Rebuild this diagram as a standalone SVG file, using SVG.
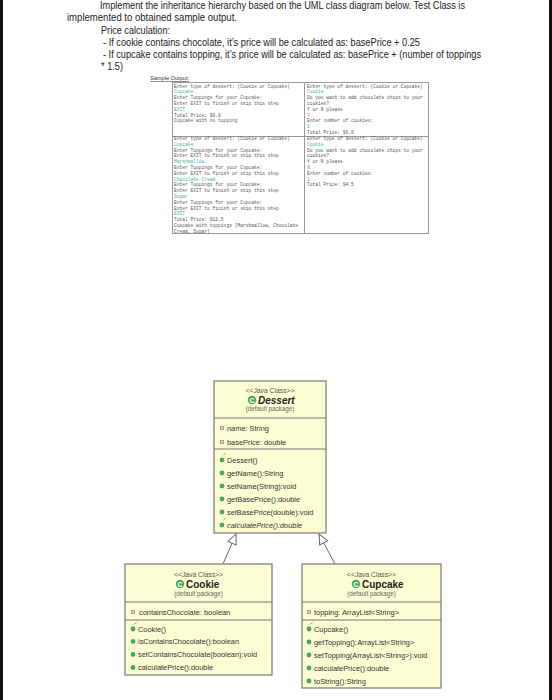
<svg xmlns="http://www.w3.org/2000/svg" width="552" height="700" viewBox="0 0 552 700">
<style>
.q{font-family:"Liberation Sans",Arial,sans-serif;font-size:10.5px;fill:#222}
.so{font-family:"Liberation Sans",Arial,sans-serif;font-size:5.5px;fill:#333;text-decoration:underline}
.m{font-family:"Liberation Mono","Courier New",monospace;font-size:4.6px;fill:#555}
.in{fill:#3bb39a}
.box{fill:#fdfdd3;stroke:#777;stroke-width:1.2}
.sep{stroke:#777;stroke-width:1}
.st{font-family:"Liberation Sans",Arial,sans-serif;font-size:6.8px;fill:#555;text-anchor:middle}
.cn{font-family:"Liberation Sans",Arial,sans-serif;font-size:10px;font-weight:bold;fill:#222}
.pk{font-family:"Liberation Sans",Arial,sans-serif;font-size:6.3px;fill:#666;text-anchor:middle}
.mb{font-family:"Liberation Sans",Arial,sans-serif;font-size:7.4px;fill:#333}
.fi{fill:#e8d0d0;stroke:#a58a8a;stroke-width:0.8}
.me{fill:#4aa85a}
.ic{font-family:"Liberation Sans",Arial,sans-serif;font-size:7px;font-weight:bold;fill:#fff;text-anchor:middle}
.tb{fill:#fff;stroke:#999;stroke-width:1}
.conn{stroke:#666;stroke-width:1;fill:none}
</style>
<defs>
<marker id="tri" markerUnits="userSpaceOnUse" markerWidth="12" markerHeight="12" refX="11" refY="5" orient="auto">
<path d="M1,0.5 L11,5 L1,9.5 Z" fill="#fff" stroke="#666" stroke-width="1"/>
</marker>
</defs>
<rect width="552" height="700" fill="#fff"/>
<rect x="0" y="0" width="3" height="700" fill="#111"/>
<rect x="549" y="0" width="3" height="700" fill="#111"/>

<g id="question">
<text class="q" x="100" y="9" textLength="365" lengthAdjust="spacingAndGlyphs">Implement the inheritance hierarchy based on the UML class diagram below. Test Class is</text>
<text class="q" x="67" y="21" textLength="170" lengthAdjust="spacingAndGlyphs">implemented to obtained sample output.</text>
<text class="q" x="101" y="34" textLength="69" lengthAdjust="spacingAndGlyphs">Price calculation:</text>
<text class="q" x="103" y="46" textLength="317" lengthAdjust="spacingAndGlyphs">- If cookie contains chocolate, it’s price will be calculated as: basePrice + 0.25</text>
<text class="q" x="103" y="58" textLength="378" lengthAdjust="spacingAndGlyphs">-  If cupcake contains topping, it’s price will be calculated as: basePrice + (number of toppings</text>
<text class="q" x="101" y="70" textLength="22" lengthAdjust="spacingAndGlyphs">* 1.5)</text>
<text class="so" x="150" y="80" textLength="39" lengthAdjust="spacingAndGlyphs">Sample Output:</text>
</g>

<g id="sample-output">
<rect class="tb" x="172.5" y="82.5" width="256" height="151"/>
<line class="sep" x1="304.5" y1="82.5" x2="304.5" y2="233.5" style="stroke:#999"/>
<line class="sep" x1="172.5" y1="136.5" x2="428.5" y2="136.5" style="stroke:#999"/>
<text class="m" x="174" y="87.5">Enter type of dessert: (Cookie or Cupcake)</text>
<text class="m in" x="174" y="93.3">Cupcake</text>
<text class="m" x="174" y="99.1">Enter Toppings for your Cupcake:</text>
<text class="m" x="174" y="104.9">Enter EXIT to finish or skip this step</text>
<text class="m in" x="174" y="110.7">EXIT</text>
<text class="m" x="174" y="116.5">Total Price: $0.0</text>
<text class="m" x="174" y="122.3">Cupcake with no topping</text>

<text class="m" x="174" y="140">Enter type of dessert: (Cookie or Cupcake)</text>
<text class="m in" x="174" y="145.8">Cupcake</text>
<text class="m" x="174" y="151.6">Enter Toppings for your Cupcake:</text>
<text class="m" x="174" y="157.4">Enter EXIT to finish or skip this step</text>
<text class="m in" x="174" y="163.2">Marshmallow</text>
<text class="m" x="174" y="169">Enter Toppings for your Cupcake:</text>
<text class="m" x="174" y="174.8">Enter EXIT to finish or skip this step</text>
<text class="m in" x="174" y="180.6">Chocolate Cream</text>
<text class="m" x="174" y="186.4">Enter Toppings for your Cupcake:</text>
<text class="m" x="174" y="192.2">Enter EXIT to finish or skip this step</text>
<text class="m in" x="174" y="198">Sugar</text>
<text class="m" x="174" y="203.8">Enter Toppings for your Cupcake:</text>
<text class="m" x="174" y="209.6">Enter EXIT to finish or skip this step</text>
<text class="m in" x="174" y="215.4">EXIT</text>
<text class="m" x="174" y="221.2">Total Price: $12.5</text>
<text class="m" x="174" y="227">Cupcake with toppings [Marshmallow, Chocolate</text>
<text class="m" x="174" y="232.5">Cream, Sugar]</text>

<text class="m" x="307" y="87.5">Enter type of dessert: (Cookie or Cupcake)</text>
<text class="m in" x="307" y="93.3">Cookie</text>
<text class="m" x="307" y="99.1">Do you want to add chocolate chips to your</text>
<text class="m" x="307" y="104.9">cookies?</text>
<text class="m" x="307" y="110.7">Y or N please</text>
<text class="m in" x="307" y="116.5">Y</text>
<text class="m" x="307" y="122.3">Enter number of cookies:</text>
<text class="m in" x="307" y="128.1">1</text>
<text class="m" x="307" y="133.9">Total Price: $6.0</text>

<text class="m" x="307" y="140">Enter type of dessert: (Cookie or Cupcake)</text>
<text class="m in" x="307" y="145.8">Cookie</text>
<text class="m" x="307" y="151.6">Do you want to add chocolate chips to your</text>
<text class="m" x="307" y="157.4">cookies?</text>
<text class="m" x="307" y="163.2">Y or N please</text>
<text class="m in" x="307" y="169">N</text>
<text class="m" x="307" y="174.8">Enter number of cookies:</text>
<text class="m in" x="307" y="180.6">1</text>
<text class="m" x="307" y="186.4">Total Price: $4.5</text>
</g>

<g id="connectors">
<line class="conn" x1="223" y1="564" x2="236" y2="534" marker-end="url(#tri)"/>
<line class="conn" x1="335" y1="564" x2="319" y2="534" marker-end="url(#tri)"/>
</g>

<g id="Dessert">
<rect class="box" x="214" y="381" width="112" height="152"/>
<line class="sep" x1="214" y1="418" x2="326" y2="418"/>
<line class="sep" x1="214" y1="449" x2="326" y2="449"/>
<text class="st" x="270" y="392.5">&lt;&lt;Java Class&gt;&gt;</text>
<circle cx="252" cy="400" r="4.2" class="me"/>
<text class="ic" x="252" y="402.5">C</text>
<text class="cn" x="258" y="403.5" font-style="italic">Dessert</text>
<text class="pk" x="270" y="411">(default package)</text>
<rect class="fi" x="220.5" y="426.5" width="3" height="3"/>
<text class="mb" x="227" y="430.8">name: String</text>
<rect class="fi" x="220.5" y="440.5" width="3" height="3"/>
<text class="mb" x="227" y="444.8">basePrice: double</text>
<circle class="me" cx="222" cy="460" r="2.4"/><path d="M223.5,455 l2,-1.5" stroke="#4aa85a" stroke-width="0.9"/>
<text class="mb" x="227" y="462.5">Dessert()</text>
<circle class="me" cx="222" cy="473" r="2.4"/>
<text class="mb" x="227" y="475.5">getName():String</text>
<circle class="me" cx="222" cy="486" r="2.4"/>
<text class="mb" x="227" y="488.5">setName(String):void</text>
<circle class="me" cx="222" cy="499" r="2.4"/>
<text class="mb" x="227" y="501.5">getBasePrice():double</text>
<circle class="me" cx="222" cy="512" r="2.4"/>
<text class="mb" x="227" y="514.5">setBasePrice(double):void</text>
<circle class="me" cx="222" cy="525" r="2.4"/><path d="M223.5,520 l2,-1.5" stroke="#4aa85a" stroke-width="0.9"/>
<text class="mb" x="227" y="527.5" font-style="italic">calculatePrice():double</text>
</g>

<g id="Cookie">
<rect class="box" x="125" y="564" width="147" height="111"/>
<line class="sep" x1="125" y1="602" x2="272" y2="602"/>
<line class="sep" x1="125" y1="620" x2="272" y2="620"/>
<text class="st" x="198.5" y="577">&lt;&lt;Java Class&gt;&gt;</text>
<circle cx="180" cy="584" r="4.2" class="me"/>
<text class="ic" x="180" y="586.5">C</text>
<text class="cn" x="186" y="587.5">Cookie</text>
<text class="pk" x="198.5" y="596">(default package)</text>
<rect class="fi" x="131.5" y="610.5" width="3" height="3"/>
<text class="mb" x="139" y="614.8">containsChocolate: boolean</text>
<circle class="me" cx="133" cy="629" r="2.4"/><path d="M134.5,624 l2,-1.5" stroke="#4aa85a" stroke-width="0.9"/>
<text class="mb" x="138" y="631.5">Cookie()</text>
<circle class="me" cx="133" cy="641.5" r="2.4"/>
<text class="mb" x="138" y="644">isContainsChocolate():boolean</text>
<circle class="me" cx="133" cy="654.5" r="2.4"/>
<text class="mb" x="138" y="657">setContainsChocolate(boolean):void</text>
<circle class="me" cx="133" cy="667.5" r="2.4"/>
<text class="mb" x="138" y="670">calculatePrice():double</text>
</g>

<g id="Cupcake">
<rect class="box" x="302" y="564" width="139" height="124"/>
<line class="sep" x1="302" y1="602" x2="441" y2="602"/>
<line class="sep" x1="302" y1="620" x2="441" y2="620"/>
<text class="st" x="371.5" y="577">&lt;&lt;Java Class&gt;&gt;</text>
<circle cx="356" cy="584" r="4.2" class="me"/>
<text class="ic" x="356" y="586.5">C</text>
<text class="cn" x="362" y="587.5">Cupcake</text>
<text class="pk" x="371.5" y="596">(default package)</text>
<rect class="fi" x="307.5" y="610.5" width="3" height="3"/>
<text class="mb" x="314" y="614.8">topping: ArrayList&lt;String&gt;</text>
<circle class="me" cx="309" cy="629" r="2.4"/><path d="M310.5,624 l2,-1.5" stroke="#4aa85a" stroke-width="0.9"/>
<text class="mb" x="314" y="631.5">Cupcake()</text>
<circle class="me" cx="309" cy="642" r="2.4"/>
<text class="mb" x="314" y="644.5">getTopping():ArrayList&lt;String&gt;</text>
<circle class="me" cx="309" cy="655" r="2.4"/>
<text class="mb" x="314" y="657.5">setTopping(ArrayList&lt;String&gt;):void</text>
<circle class="me" cx="309" cy="668" r="2.4"/>
<text class="mb" x="314" y="670.5">calculatePrice():double</text>
<circle class="me" cx="309" cy="681" r="2.4"/>
<text class="mb" x="314" y="683.5">toString():String</text>
</g>
</svg>
